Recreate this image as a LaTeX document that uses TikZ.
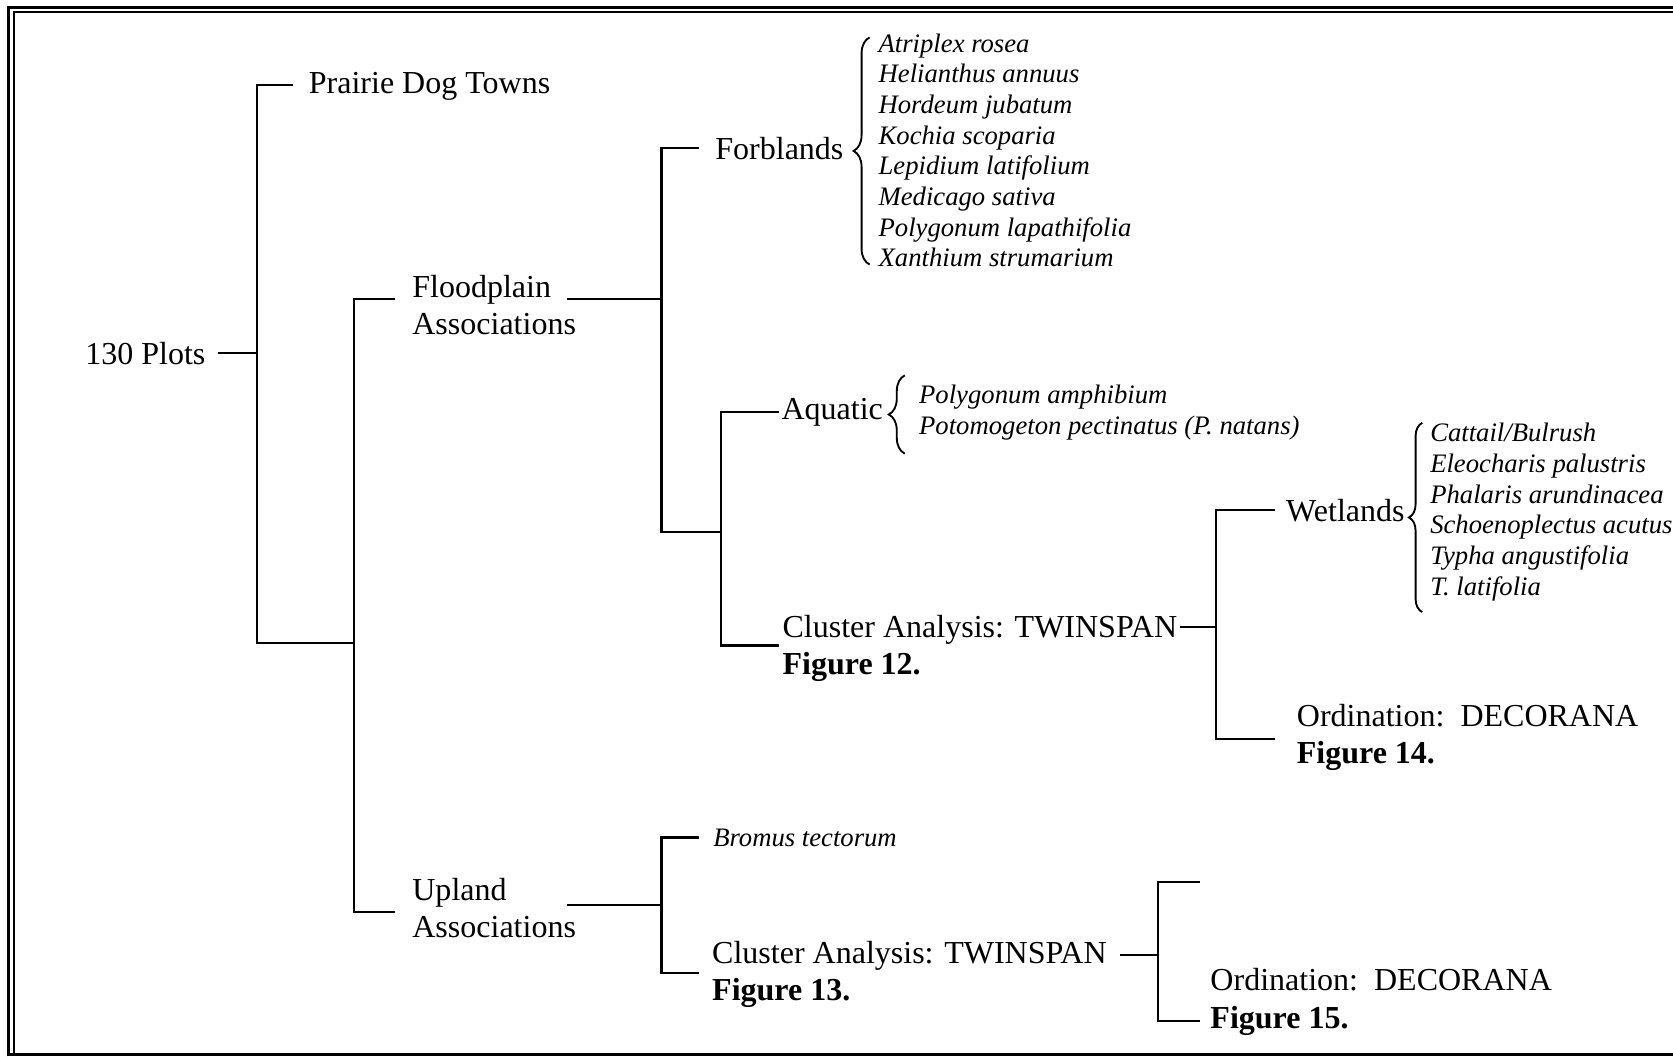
\documentclass[tikz,border=0pt]{standalone}
\usepackage{fontspec}
\setmainfont{Liberation Serif}
\usetikzlibrary{decorations.pathreplacing, calc}

\begin{document}
\begin{tikzpicture}[
    x=0.4pt, y=-0.4pt,
    lbl/.style={inner sep=0pt, anchor=west, align=left, font=\fontsize{12}{14}\selectfont},
    spp/.style={inner sep=0pt, anchor=west, align=left, font=\fontsize{10}{11.5}\selectfont\itshape},
    tree/.style={line width=0.8pt},
    brc/.style={decorate, decoration={brace, amplitude=6pt}, line width=0.7pt}
]
\useasboundingbox (0,0) rectangle (1568,990);

% frame
\draw[line width=1.1pt] (8.4,990) -- (8.4,7) -- (1568,7);
\draw[line width=0.8pt] (12.8,988) -- (12.8,11.5) -- (1568,11.5);
\draw[line width=1.1pt] (8.4,988.5) -- (1568,988.5);

% labels
\node[lbl, anchor=east] (plots) at (193,331) {130 Plots};
\node[lbl] (prairie) at (289,81) {Prairie Dog Towns};
\node[lbl] (flood) at (386,286) {Floodplain\\Associations};
\node[lbl] (upland) at (386,851) {Upland\\Associations};
\node[lbl] (forb) at (670,139) {Forblands};
\node[spp] (forbsp) at (823,141) {Atriplex rosea\\Helianthus annuus\\Hordeum jubatum\\Kochia scoparia\\Lepidium latifolium\\Medicago sativa\\Polygonum lapathifolia\\Xanthium strumarium};
\node[lbl] (aquatic) at (732,386) {Aquatic};
\node[spp] (aqsp) at (861,387) {Polygonum amphibium\\Potomogeton pectinatus (P. natans)};
\node[lbl] (clus12) at (733,608) {Cluster Analysis: TWINSPAN\\\textbf{Figure 12.}};
\node[lbl] (wet) at (1205,479) {Wetlands};
\node[spp] (wetsp) at (1340,480) {Cattail/Bulrush\\Eleocharis palustris\\Phalaris arundinacea\\Schoenoplectus acutus\\Typha angustifolia\\T. latifolia};
\node[lbl] (ord14) at (1215,691) {Ordination:\ \ DECORANA\\\textbf{Figure 14.}};
\node[spp] (bromus) at (668,785) {Bromus tectorum};
\node[lbl] (clus13) at (667,913) {Cluster Analysis: TWINSPAN\\\textbf{Figure 13.}};
\node[lbl] (ord15) at (1134,939) {Ordination:\ \ DECORANA\\\textbf{Figure 15.}};

% junctions
\coordinate (rootbus) at (241,603);
\coordinate (assocbus) at (332,603);
\coordinate (abus) at (332,855);
\coordinate (fbus) at (620,499);
\coordinate (aqbus) at (676,499);
\coordinate (wbus) at (1140,588);
\coordinate (ubus) at (620,848);
\coordinate (obus) at (1085,895);
\coordinate (blank) at (1125,827);

% tree
\draw[tree] ($(plots.east)+(11,0)$) -- (plots.east -| rootbus);
\draw[tree] ($(prairie.west)+(-14,-1)$) -| (rootbus) -- (assocbus);
\draw[tree] ($(flood.west)+(-16,-6)$) -| (abus) -- ($(upland.west)+(-16,4)$);
\draw[tree] ($(flood.east)+(-9,-6)$) coordinate (fp) -- (fp -| fbus);
\draw[tree] ($(forb.west)+(-15,0)$) -| (fbus) -- (aqbus);
\draw[tree] ($(aquatic.west)+(-2,0)$) -| (aqbus) |- ($(clus12.west)+(-3,-3)$);
\draw[tree] ($(clus12.east)+(2,-20)$) -- (wbus);
\draw[tree] ($(wet.west)+(-10,-1)$) -| (wbus) |- ($(ord14.west)+(-20,2)$);
\draw[tree] ($(upland.east)+(-9,-3)$) -- (ubus);
\draw[tree] ($(bromus.west)+(-13,0)$) -| (ubus) |- ($(clus13.west)+(-12,-1)$);
\draw[tree] ($(clus13.east)+(12,-18)$) -- (obus);
\draw[tree] (blank) -| (obus) |- ($(ord15.west)+(-9,18)$);

% braces
\draw[brc] ($(forbsp.south west)+(-8,-3)$) -- ($(forbsp.north west)+(-8,4)$);
\draw[brc] ($(aqsp.south west)+(-13,12)$) -- ($(aqsp.north west)+(-13,-9)$);
\draw[brc, decoration={amplitude=5pt}] ($(wetsp.south west)+(-7,10)$) -- ($(wetsp.north west)+(-7,0)$);
\end{tikzpicture}
\end{document}
